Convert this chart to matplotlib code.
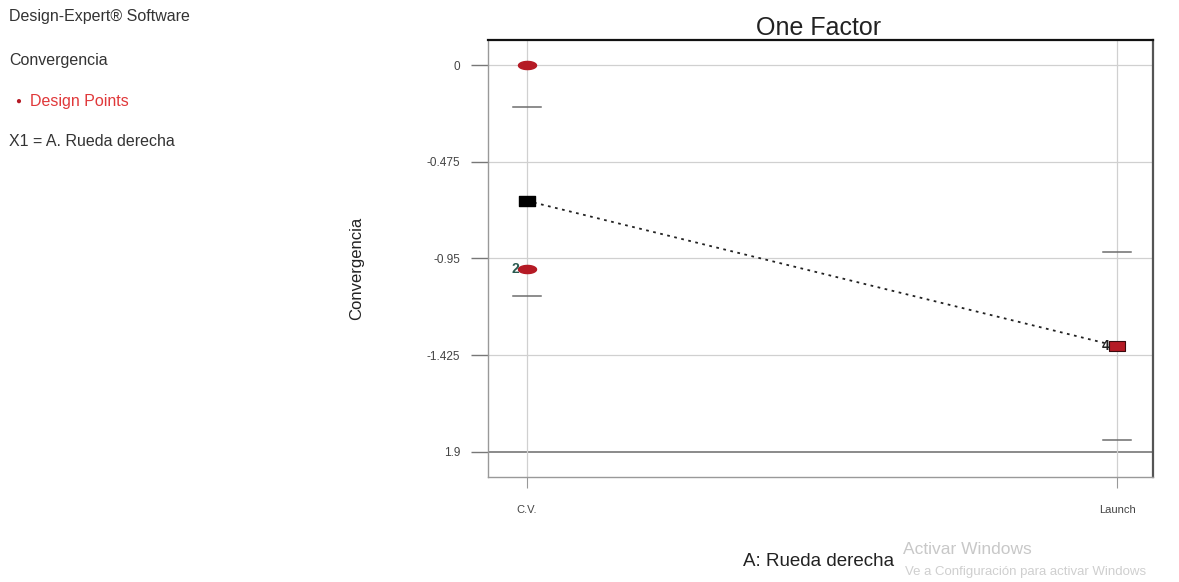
import numpy as np
import matplotlib
matplotlib.use("Agg")
import matplotlib.pyplot as plt
from matplotlib.path import Path

plt.rcParams['font.family'] = ['Liberation Sans', 'DejaVu Sans']

# ---- data ----
categories = ["C.V.", "Launch"]
means = [-0.667, -1.38]
ci_high = [-0.206, -0.918]
ci_low = [-1.134, -1.841]
design_x = [0, 0]
design_y = [0.0, -1.0]
design_counts = ["", "2"]
launch_count = "4"
y_ticks = [0, -0.475, -0.95, -1.425, -1.9]
y_tick_labels = ["0", "-0.475", "-0.95", "-1.425", "1.9"]

W, H = 1179, 582
fig = plt.figure(figsize=(W / 100, H / 100), dpi=100)
ax = fig.add_axes([488 / W, 1 - 477 / H, (1153 - 488) / W, (477 - 40) / H])

xpos = np.arange(len(categories))
ax.set_xlim(-0.066, 1.061)
ax.set_ylim(-2.023, 0.123)

# grid
for yt in y_ticks:
    col = '#8a8a8a' if yt == y_ticks[-1] else '#d0d0d0'
    lw = 1.4 if yt == y_ticks[-1] else 0.9
    ax.axhline(yt, color=col, lw=lw, zorder=1)
for xp in xpos:
    ax.axvline(xp, color='#d0d0d0', lw=0.9, zorder=1)

# markers
t = np.linspace(0, 2 * np.pi, 40)
ellipse = Path(np.column_stack([np.cos(t), 0.45 * np.sin(t)]), closed=True)
rect = Path([(-1, -0.6), (1, -0.6), (1, 0.6), (-1, 0.6), (-1, -0.6)], closed=True)

red = '#b51a25'
# connecting mean line
ax.plot(xpos, means, ls=(0, (1.5, 2.5)), color='#222222', lw=1.3, zorder=2)
# CI bars
for xp, lo, hi in zip(xpos, ci_low, ci_high):
    for v in (lo, hi):
        ax.plot([xp - 0.024, xp + 0.024], [v, v], color='#6e6e6e', lw=1.1, zorder=3)
# C.V. mean (black)
ax.plot([xpos[0]], [means[0]], marker=rect, ms=11, color='black', ls='none', zorder=5)
# Launch mean (red design point with count)
ax.plot([xpos[1]], [means[1]], marker=rect, ms=11, mfc=red, mec='#3a0a0e', mew=0.8,
        ls='none', zorder=5)
ax.text(xpos[1] - 0.013, means[1], launch_count, ha='right', va='center',
        fontsize=10, color='#222222', fontweight='bold', zorder=6)
# design points at C.V.
ax.plot(design_x, design_y, marker=ellipse, ms=13, color=red, ls='none', zorder=5)
for x, y, c in zip(design_x, design_y, design_counts):
    if c:
        ax.text(x - 0.013, y, c, ha='right', va='center', fontsize=10,
                color='#2a5a50', fontweight='bold', zorder=6)

# axes styling
ax.set_xticks(xpos)
ax.set_xticklabels(categories, fontsize=8, color='#444444')
ax.set_yticks(y_ticks)
ax.set_yticklabels(y_tick_labels, fontsize=8.5, color='#444444')
ax.tick_params(axis='y', length=12, width=1.0, color='#777777', pad=8)
ax.tick_params(axis='x', length=8, width=0.8, color='#999999', pad=12)
for s in ax.spines.values():
    s.set_zorder(7)
ax.spines['top'].set_color('#111111'); ax.spines['top'].set_linewidth(1.6)
ax.spines['right'].set_color('#555555'); ax.spines['right'].set_linewidth(1.6)
ax.spines['left'].set_color('#999999'); ax.spines['left'].set_linewidth(1.0)
ax.spines['bottom'].set_color('#999999'); ax.spines['bottom'].set_linewidth(1.0)

# titles / labels
fig.text(819 / W, 1 - 35 / H, "One Factor", ha='center', va='baseline', fontsize=18, color='#222222')
fig.text(357 / W, 1 - 268 / H, "Convergencia", rotation=90, ha='center', va='center',
         fontsize=12, color='#222222')
fig.text(819 / W, 1 - 562 / H, "A: Rueda derecha", ha='center', va='center',
         fontsize=13.5, color='#222222')

# left info text
fig.text(9 / W, 1 - 17 / H, "Design-Expert® Software", ha='left', va='center', fontsize=11.5, color='#333333')
fig.text(9 / W, 1 - 60 / H, "Convergencia", ha='left', va='center', fontsize=11.5, color='#333333')
fig.text(18 / W, 1 - 101 / H, "\u25CF", ha='center', va='center', fontsize=7, color=red)
fig.text(30 / W, 1 - 101 / H, "Design Points", ha='left', va='center', fontsize=11.5, color='#e0383a')
fig.text(9 / W, 1 - 142 / H, "X1 = A. Rueda derecha", ha='left', va='center', fontsize=11.5, color='#333333')

# watermark
fig.text(903 / W, 1 - 550 / H, "Activar Windows", ha='left', va='center', fontsize=12.5, color='#c8c8c8')
fig.text(905 / W, 1 - 572 / H, "Ve a Configuración para activar Windows", ha='left', va='center',
         fontsize=9.5, color='#cfcfcf')

fig.savefig("out.png", dpi=100)
